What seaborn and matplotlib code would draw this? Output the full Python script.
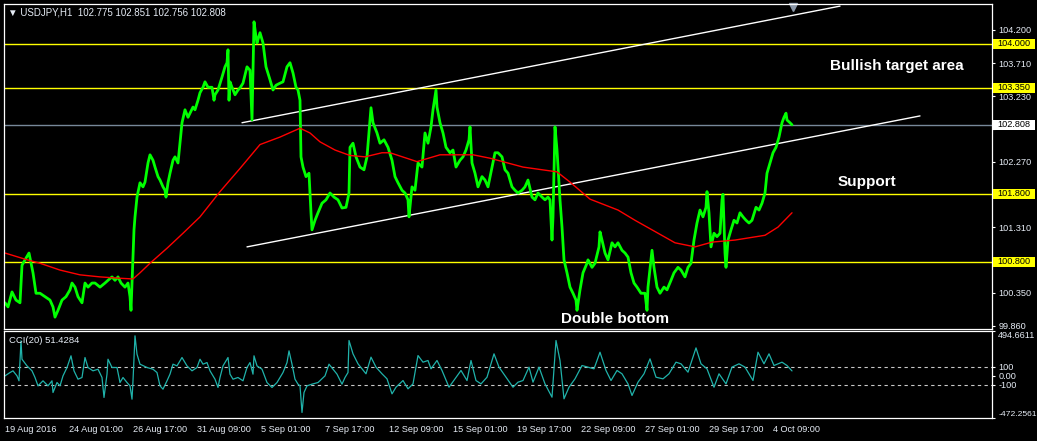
import matplotlib
matplotlib.use('Agg')
import matplotlib.pyplot as plt
import matplotlib.transforms as mtransforms
from matplotlib.patches import Rectangle
import seaborn as sns

# USDJPY H1 closes (bar position -> price)
bar = [5, 8, 12, 16, 20, 22, 25, 29, 33, 36, 40, 45, 50, 53, 55, 58, 62, 66, 70, 72,
       75, 78, 82, 85, 88, 92, 95, 100, 105, 108, 112, 115, 118, 121, 125, 128, 130, 131, 133, 134,
       135, 137, 140, 143, 145, 148, 150, 153, 155, 158, 160, 163, 165, 166, 168, 170, 173, 175, 178, 180,
       182, 185, 188, 190, 193, 195, 198, 200, 203, 205, 208, 212, 214, 215, 218, 222, 225, 227, 228, 229,
       230, 232, 235, 238, 240, 243, 247, 250, 252, 253, 254, 256, 257, 260, 263, 266, 270, 273, 276, 280,
       283, 287, 290, 293, 296, 298, 300, 301, 303, 306, 309, 311, 312, 315, 318, 322, 326, 330, 334, 338,
       342, 346, 349, 350, 353, 356, 360, 364, 367, 370, 371, 373, 377, 380, 384, 388, 392, 395, 398, 402,
       405, 408, 409, 412, 415, 418, 422, 425, 428, 431, 433, 436, 437, 440, 443, 446, 450, 453, 456, 460,
       463, 466, 469, 470, 472, 475, 478, 482, 485, 488, 492, 495, 498, 502, 505, 508, 512, 515, 518, 522,
       525, 528, 532, 535, 538, 542, 545, 548, 550, 552, 553, 555, 557, 560, 562, 564, 567, 570, 573, 576,
       577, 580, 583, 587, 588, 592, 595, 599, 600, 602, 605, 608, 612, 615, 618, 622, 625, 628, 631, 634,
       637, 641, 645, 647, 648, 651, 652, 654, 657, 660, 664, 667, 671, 674, 678, 681, 685, 688, 691, 694,
       697, 700, 703, 706, 707, 709, 711, 714, 717, 720, 722, 723, 725, 726, 728, 731, 734, 737, 740, 743,
       746, 749, 752, 756, 759, 762, 765, 767, 770, 773, 776, 779, 782, 784, 786, 787, 790, 792]
close = [100.20, 100.14, 100.36, 100.24, 100.20, 100.75, 100.83, 100.93, 100.64, 100.34, 100.34, 100.29, 100.24, 100.14, 99.99, 100.09, 100.24, 100.29, 100.39, 100.49,
         100.43, 100.29, 100.20, 100.49, 100.43, 100.49, 100.49, 100.43, 100.49, 100.53, 100.58, 100.53, 100.58, 100.49, 100.43, 100.49, 100.29, 100.09, 100.87, 101.27,
         101.46, 101.75, 101.96, 101.90, 101.97, 102.25, 102.37, 102.29, 102.19, 102.05, 102.00, 101.90, 101.85, 101.75, 101.96, 102.10, 102.29, 102.34, 102.25, 102.54,
         102.84, 103.03, 102.92, 102.98, 103.07, 103.03, 103.17, 103.28, 103.36, 103.44, 103.36, 103.36, 103.17, 103.25, 103.32, 103.51, 103.66, 103.72, 103.91, 103.17,
         103.44, 103.36, 103.25, 103.32, 103.35, 103.42, 103.66, 103.61, 102.88, 103.61, 104.32, 104.10, 104.01, 104.16, 104.01, 103.66, 103.47, 103.32, 103.39, 103.42,
         103.44, 103.66, 103.72, 103.57, 103.36, 103.32, 103.17, 102.34, 102.19, 102.05, 102.10, 101.52, 101.27, 101.41, 101.52, 101.66, 101.71, 101.81, 101.75, 101.71,
         101.59, 101.60, 101.81, 102.48, 102.54, 102.34, 102.19, 102.15, 102.34, 102.88, 103.06, 102.84, 102.69, 102.54, 102.59, 102.48, 102.29, 102.05, 101.96, 101.85,
         101.81, 101.71, 101.46, 101.90, 101.85, 102.25, 102.19, 102.69, 102.54, 102.78, 103.03, 103.32, 103.07, 102.84, 102.69, 102.48, 102.40, 102.44, 102.19, 102.29,
         102.34, 102.44, 102.59, 102.78, 102.25, 102.10, 101.90, 102.05, 102.00, 101.90, 102.19, 102.40, 102.40, 102.34, 102.15, 102.10, 101.90, 101.85, 101.81, 101.85,
         101.90, 102.00, 101.75, 101.71, 101.81, 101.75, 101.71, 101.75, 101.71, 101.12, 101.46, 102.78, 102.44, 101.71, 101.31, 100.83, 100.64, 100.43, 100.34, 100.24,
         100.09, 100.39, 100.64, 100.78, 100.83, 100.72, 100.78, 101.02, 101.24, 101.12, 100.93, 100.83, 101.08, 101.02, 101.08, 100.97, 100.93, 100.87, 100.64, 100.49,
         100.43, 100.34, 100.34, 100.09, 100.43, 100.83, 100.97, 100.72, 100.43, 100.34, 100.43, 100.39, 100.53, 100.64, 100.72, 100.68, 100.58, 100.72, 100.78, 101.12,
         101.37, 101.56, 101.46, 101.60, 101.83, 101.52, 101.02, 101.22, 101.17, 101.22, 101.71, 101.79, 100.93, 100.72, 101.12, 101.27, 101.41, 101.37, 101.52, 101.46,
         101.41, 101.37, 101.41, 101.60, 101.56, 101.66, 101.81, 102.10, 102.25, 102.40, 102.48, 102.63, 102.84, 102.92, 102.98, 102.88, 102.84, 102.81]

# red moving average
ma_bar = [5, 25, 40, 60, 80, 100, 120, 133, 140, 150, 167, 183, 200, 220, 240, 260, 280, 300, 310, 320,
          335, 350, 365, 382, 390, 417, 440, 473, 490, 523, 557, 570, 590, 618, 635, 652, 675, 695, 712, 735,
          765, 778, 792]
ma_val = [100.93, 100.84, 100.78, 100.68, 100.61, 100.58, 100.56, 100.55, 100.64, 100.78, 101.00, 101.22, 101.46, 101.83, 102.17, 102.52, 102.63, 102.76, 102.69, 102.56,
          102.44, 102.36, 102.34, 102.40, 102.40, 102.27, 102.37, 102.37, 102.32, 102.19, 102.12, 101.97, 101.72, 101.56, 101.41, 101.27, 101.08, 101.02, 101.09, 101.12,
          101.19, 101.31, 101.52]

# CCI(20)
cci_bar = [5, 10, 13, 17, 19, 21, 22, 27, 32, 35, 38, 43, 48, 52, 53, 57, 60, 63, 67, 71,
           74, 78, 82, 85, 88, 93, 98, 102, 104, 107, 108, 112, 117, 120, 123, 127, 130, 132, 133, 135,
           137, 140, 147, 153, 157, 160, 163, 167, 170, 173, 177, 182, 187, 192, 197, 200, 203, 207, 210, 215,
           218, 220, 223, 228, 230, 233, 238, 243, 247, 250, 253, 254, 257, 262, 267, 272, 277, 283, 287, 289,
           292, 295, 298, 300, 302, 304, 307, 312, 318, 325, 329, 333, 337, 342, 345, 348,
           349, 353, 358, 366, 371, 376, 382, 387, 392, 396, 403, 408, 413, 418, 423, 428, 431, 437, 442, 449,
           455, 461, 467, 471, 476, 481, 487, 494, 499, 506, 513, 518, 523, 529, 533, 539, 545, 552, 556, 560,
           564, 569, 575, 582, 588, 594, 600, 606, 611, 617, 622, 628, 632, 638, 644, 650, 656, 663, 669, 676,
           681, 688, 696, 701, 707, 714, 719, 726, 732, 739, 745, 753, 758, 764, 769, 774, 782, 787, 792]
cci_val = [-4, 33, 52, -4, -59, 385, 181, 107, 52, -22, -115, -59, -115, -59, -189, -78, -115, -4, 89, 219,
           52, -41, -22, 200, 89, 52, 70, -22, -244, 15, 181, 89, 89, -78, -22, -78, -115, -263, -59, 441,
           237, 126, 89, 70, 33, -115, -152, -59, 15, 126, 107, 200, 107, 52, 89, 181, 126, 144, 52, -41,
           -133, -22, 107, 200, 15, -41, -22, -59, 89, 144, 15, 219, 107, 70, -78, -133, -78, 33, 144, 274,
           126, -41, -96, -115, -411, -189, -115, -96, -78, -4, 126, 70, 15, -96, -22, 33,
           389, 241, 130, 19, 204, 93, 19, -37, -204, -130, -56, -148, -93, 222, 148, 167, 74, 167, 56, -130,
           -37, 56, -56, 167, -56, -93, -19, 241, 93, -19, -130, -74, -56, 93, -74, 93, -93, -241, 389, 167,
           -259, -130, -37, 111, 93, 74, 259, 56, -56, 56, 19, -93, -222, -74, 19, 185, -19, -37, 19, 148,
           130, 37, 307, 130, 74, -130, 19, -93, 93, 130, 93, -56, 259, 130, 241, 111, 148, 111, 51]

# drawn trend lines and levels
upper_bar, upper_val = [242, 840], [102.84, 104.55]
lower_bar, lower_val = [247, 920], [101.02, 102.94]
levels = [104.000, 103.350, 101.800, 100.800]
bid = 102.808
price_ticks = [99.86, 100.35, 100.83, 101.31, 101.79, 102.27, 102.75, 103.23, 103.71, 104.20]
hidden_ticks = [100.83, 101.79, 102.75]   # covered by the level boxes
date_pos = [5, 69, 133, 197, 261, 325, 389, 453, 517, 581, 645, 709, 773]
date_labels = ['19 Aug 2016', '24 Aug 01:00', '26 Aug 17:00', '31 Aug 09:00', '5 Sep 01:00',
               '7 Sep 17:00', '12 Sep 09:00', '15 Sep 01:00', '19 Sep 17:00', '22 Sep 09:00',
               '27 Sep 01:00', '29 Sep 17:00', '4 Oct 09:00']

sns.set_style('dark', {'axes.facecolor': 'black', 'figure.facecolor': 'black',
                       'axes.edgecolor': 'white', 'axes.grid': False})
plt.rcParams['font.family'] = ['Liberation Sans', 'DejaVu Sans']

fg = '#e6ecf5'
fig = plt.figure(figsize=(10.37, 4.41), dpi=100, facecolor='black')
ax = fig.add_axes([4 / 1037, 112 / 441, 988 / 1037, 325 / 441])
ax2 = fig.add_axes([4 / 1037, 23 / 441, 988 / 1037, 87 / 441])

# main price panel
for lv in levels:
    ax.axhline(lv, color='#ffff00', lw=1, zorder=1)
ax.axhline(bid, color='#778899', lw=1, zorder=1)
sns.lineplot(x=upper_bar, y=upper_val, ax=ax, color='white', lw=1, estimator=None, sort=False)
sns.lineplot(x=lower_bar, y=lower_val, ax=ax, color='white', lw=1, estimator=None, sort=False)
sns.lineplot(x=bar, y=close, ax=ax, color='#00ff00', lw=2.0, estimator=None, sort=False)
sns.lineplot(x=ma_bar, y=ma_val, ax=ax, color='#ff0000', lw=1, estimator=None, sort=False)

ax.set_xlim(4, 992)
ax.set_ylim(99.816, 104.581)
ax.set_xticks([])
ax.set_xlabel('')
ax.set_ylabel('')
ax.yaxis.tick_right()
ax.set_yticks(price_ticks)
ax.set_yticklabels(['' if v in hidden_ticks else '%.3f' % v for v in price_ticks])
ax.tick_params(axis='y', colors='white', labelcolor=fg, labelsize=6.6, length=2.5, width=0.8, pad=2)
for sp in ax.spines.values():
    sp.set_color('white')
    sp.set_linewidth(0.9)

# price labels on the right scale
blend = mtransforms.blended_transform_factory(ax.transAxes, ax.transData)
for lv, fc in [(l, '#ffff00') for l in levels] + [(bid, 'white')]:
    ax.add_patch(Rectangle((1.0015, lv - 0.072), 0.0425, 0.144, transform=blend,
                           facecolor=fc, edgecolor='none', clip_on=False, zorder=5))
    ax.text(1.0055, lv, '%.3f' % lv, transform=blend, color='black', fontsize=6.6,
            ha='left', va='center', clip_on=False, zorder=6)

ax.text(0.004, 0.975, '\u25bc USDJPY,H1  102.775 102.851 102.756 102.808', transform=ax.transAxes,
        color=fg, fontsize=7, ha='left', va='center')
ax.plot(0.7986, 0.99, marker='v', color='#8a97a8', ms=6, transform=ax.transAxes, clip_on=False)

ax.text(897, 103.67, 'Bullish target area', color='white', fontsize=11, fontweight='bold',
        ha='center', va='center')
ax.text(867, 101.97, 'Support', color='white', fontsize=11, fontweight='bold', ha='center', va='center')
ax.text(615, 99.96, 'Double bottom', color='white', fontsize=11, fontweight='bold', ha='center', va='center')

# CCI panel
ax2.axhline(100, color='#c8c8c8', lw=0.8, ls=(0, (3, 3)))
ax2.axhline(-100, color='#c8c8c8', lw=0.8, ls=(0, (3, 3)))
sns.lineplot(x=cci_bar, y=cci_val, ax=ax2, color='#20b2aa', lw=0.9, estimator=None, sort=False)
ax2.set_xlim(4, 992)
ax2.set_ylim(-472.2561, 494.6611)
ax2.set_xlabel('')
ax2.set_ylabel('')
ax2.yaxis.tick_right()
ax2.set_yticks([-472.2561, -100, 0, 100, 494.6611])
ax2.set_yticklabels(['-472.2561', '-100', '0.00', '100', '494.6611'])
ax2.tick_params(axis='y', colors='white', labelcolor=fg, labelsize=6.6, length=2.5, width=0.8, pad=2)
ylabs = ax2.get_yticklabels()
ylabs[0].set_va('bottom')
ylabs[0].set_fontsize(6.1)
ylabs[-1].set_va('top')
ax2.set_xticks(date_pos)
ax2.set_xticklabels(date_labels)
for t in ax2.get_xticklabels():
    t.set_ha('left')
ax2.tick_params(axis='x', colors='white', labelcolor=fg, labelsize=6.6, length=3, width=0.8, pad=2)
for sp in ax2.spines.values():
    sp.set_color('white')
    sp.set_linewidth(0.9)
ax2.text(0.005, 0.895, 'CCI(20) 51.4284', transform=ax2.transAxes, color=fg, fontsize=6.8,
         ha='left', va='center')

fig.savefig('out.png', dpi=100, facecolor='black')
